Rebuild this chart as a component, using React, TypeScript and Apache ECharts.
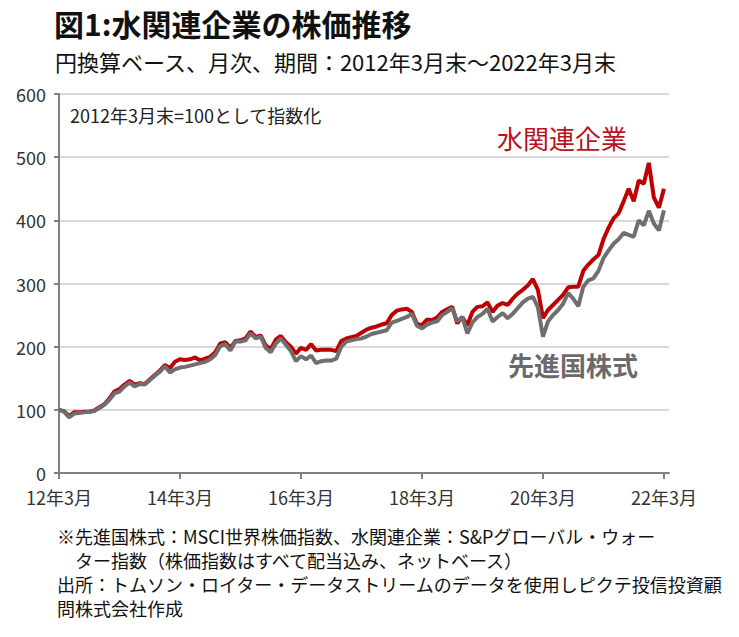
import React, { useEffect, useRef } from "react";
import * as echarts from "echarts";

// Month categories: 2012-03 .. 2022-03 (+1 empty slot at the right edge)
const categories: string[] = [];
for (let i = 0; i <= 121; i++) {
  const t = 2012 * 12 + 2 + i;
  const y = Math.floor(t / 12);
  const mo = (t % 12) + 1;
  categories.push(`${String(y).slice(2)}年${mo}月`);
}

const yTicks = [0, 100, 200, 300, 400, 500, 600];

// 水関連企業 (S&P Global Water index), monthly, 2012/3 = 100
const water = [
  100, 98, 90, 96, 96, 97, 97, 99, 104, 109, 118, 129,
  133, 140, 146, 140, 142, 141, 148, 155, 162, 171, 166, 176,
  180, 179, 180, 183, 178, 181, 184, 191, 205, 207, 198, 209,
  210, 213, 224, 215, 218, 202, 196, 211, 217, 207, 200, 189,
  198, 195, 204, 194, 195, 195, 195, 193, 209, 213, 215, 217,
  222, 227, 230, 232, 235, 237, 250, 257, 259, 260, 255, 236,
  234, 243, 242, 246, 255, 259, 263, 237, 247, 234, 255, 263,
  264, 270, 255, 265, 269, 266, 276, 284, 290, 297, 307, 290,
  245, 258, 266, 274, 282, 294, 295, 295, 320, 330, 338, 345,
  370, 388, 403, 411, 430, 450, 430, 463, 458, 491, 436, 420,
  450,
];

// 先進国株式 (MSCI World), monthly, 2012/3 = 100
const world = [
  100, 97, 88, 94, 95, 96, 97, 98, 103, 108, 116, 126,
  129, 137, 143, 137, 141, 140, 147, 154, 160, 169, 159, 164,
  167, 168, 170, 172, 174, 176, 180, 187, 201, 204, 194, 208,
  208, 210, 221, 213, 216, 198, 191, 205, 213, 203, 193, 177,
  185, 180, 186, 174, 177, 178, 178, 181, 200, 208, 210, 212,
  213, 216, 220, 222, 224, 226, 238, 241, 244, 247, 252, 233,
  229, 235, 238, 240, 250, 255, 261, 240, 247, 221, 238, 247,
  252, 260, 240, 247, 253, 245, 252, 261, 270, 276, 279, 262,
  216, 240, 250, 258, 268, 285, 276, 264, 295, 305, 308, 320,
  340, 352, 363, 370, 380, 377, 374, 400, 392, 415, 395, 384,
  416,
];

const FONT = "'Noto Sans CJK JP', 'Noto Sans', sans-serif";

const footnotes = [
  { text: "※先進国株式：MSCI世界株価指数、水関連企業：S&Pグローバル・ウォー", x: 57, y: 537 },
  { text: "ター指数（株価指数はすべて配当込み、ネットベース）", x: 75, y: 561 },
  { text: "出所：トムソン・ロイター・データストリームのデータを使用しピクテ投信投資顧", x: 57, y: 585 },
  { text: "問株式会社作成", x: 57, y: 609 },
];

export default function App() {
  const ref = useRef<HTMLDivElement>(null);
  useEffect(() => {
    if (!ref.current) return;
    const chart = echarts.init(ref.current, undefined, { renderer: "svg" });
    const fs = 18;
    chart.setOption({
      animation: false,
      backgroundColor: "#ffffff",
      textStyle: { fontFamily: FONT },
      title: [
        {
          text: "図1:水関連企業の株価推移",
          left: 54,
          top: 8,
          padding: 0,
          textStyle: { fontSize: 30, lineHeight: 30, fontWeight: "bold", color: "#111", fontFamily: FONT },
        },
        {
          text: "円換算ベース、月次、期間：2012年3月末～2022年3月末",
          left: 55,
          top: 50,
          padding: 0,
          textStyle: { fontSize: 22, lineHeight: 22, fontWeight: "normal", color: "#111", fontFamily: FONT },
        },
      ],
      grid: { left: 59, top: 94, width: 610, height: 379, containLabel: false },
      xAxis: {
        type: "category",
        data: categories,
        boundaryGap: false,
        axisLine: { show: true, lineStyle: { color: "#808080", width: 2 } },
        axisTick: {
          show: true,
          interval: (i: number) => i % 24 === 0,
          length: 6,
          lineStyle: { color: "#808080", width: 2 },
        },
        axisLabel: {
          interval: (i: number) => i % 24 === 0,
          fontSize: 18,
          lineHeight: 18,
          color: "#333",
          margin: 15,
          fontFamily: FONT,
        },
        splitLine: { show: false },
      },
      yAxis: {
        type: "value",
        min: yTicks[0],
        max: yTicks[yTicks.length - 1],
        interval: 100,
        axisLine: { show: true, lineStyle: { color: "#808080", width: 2 } },
        axisTick: { show: true, length: 5, lineStyle: { color: "#808080", width: 2 } },
        axisLabel: { fontSize: 18, lineHeight: 18, color: "#333", margin: 13, fontFamily: FONT },
        splitLine: { show: true, lineStyle: { color: "#d9d9d9", width: 2 } },
      },
      series: [
        {
          name: "水関連企業",
          type: "line",
          data: water,
          symbol: "none",
          lineStyle: { color: "#c00000", width: 4 },
          z: 2,
        },
        {
          name: "先進国株式",
          type: "line",
          data: world,
          symbol: "none",
          lineStyle: { color: "#6f6f6f", width: 4 },
          z: 3,
        },
      ],
      graphic: [
        {
          type: "text",
          x: 70,
          y: 106,
          style: { text: "2012年3月末=100として指数化", fontSize: 18, fill: "#222", fontFamily: FONT },
        },
        {
          type: "text",
          x: 497,
          y: 124,
          style: { text: "水関連企業", fontSize: 26, fill: "#b8141e", fontFamily: FONT },
        },
        {
          type: "text",
          x: 508,
          y: 351,
          style: { text: "先進国株式", fontSize: 26, fontWeight: "bold", fill: "#6a6a6a", fontFamily: FONT },
        },
        ...footnotes.map((f) => ({
          type: "text",
          x: f.x,
          y: f.y - fs / 2 - 1,
          style: { text: f.text, fontSize: fs, fill: "#111", fontFamily: FONT },
        })),
      ],
    });
    return () => chart.dispose();
  }, []);
  return (
    <div
      ref={ref}
      style={{ position: "absolute", left: 0, top: 0, width: 739, height: 637 }}
    />
  );
}
